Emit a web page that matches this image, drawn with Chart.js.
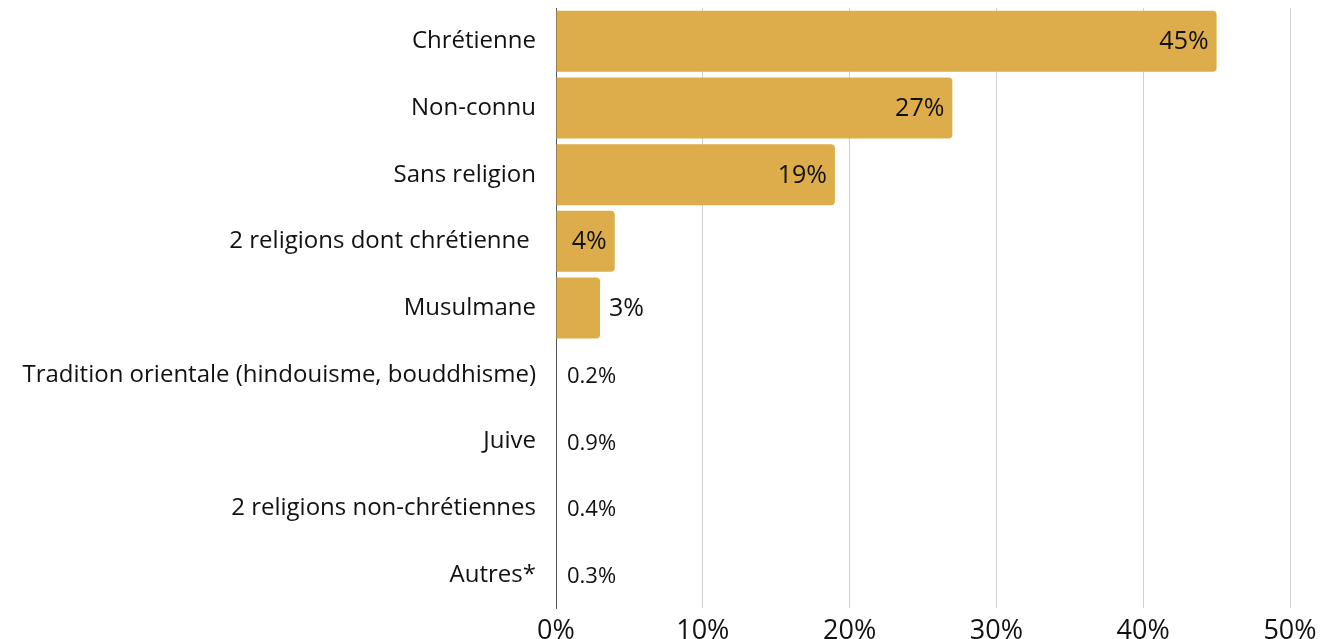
<!DOCTYPE html>
<html>
<head>
<meta charset="utf-8">
<script src="https://cdn.jsdelivr.net/npm/chart.js@4/dist/chart.umd.min.js"></script>
<style>
  html, body { margin: 0; padding: 0; background: #fff; }
  #wrap { width: 1321px; height: 639px; }
</style>
</head>
<body>
<div id="wrap"><canvas id="religions"></canvas></div>
<script>
const categories = ['Chrétienne', 'Non-connu', 'Sans religion', '2 religions dont chrétienne ', 'Musulmane',
    'Tradition orientale (hindouisme, bouddhisme)', 'Juive', '2 religions non-chrétiennes', 'Autres*'];
const shares = [45, 27, 19, 4, 3, 0.2, 0.9, 0.4, 0.3];
const xTicks = [0, 10, 20, 30, 40, 50];

const gold = '#dcad4a';
const fontName = '"Open Sans", Lato, sans-serif';
Chart.defaults.font.family = fontName;
Chart.defaults.color = '#111';

// value labels: inside the bar when it fits, otherwise just after it
const valueLabels = {
    id: 'valueLabels',
    afterDatasetsDraw(chart) {
        const ctx = chart.ctx;
        const meta = chart.getDatasetMeta(0);
        const xScale = chart.scales.x;
        const base = xScale.getPixelForValue(0);
        ctx.save();
        ctx.fillStyle = '#111';
        ctx.textBaseline = 'middle';
        meta.data.forEach(function (bar, i) {
            const v = shares[i];
            const text = v + '%';
            if (v < 1) {
                ctx.font = '22px ' + fontName;
                ctx.textAlign = 'left';
                ctx.fillText(text, base + 11, bar.y + 2);
                return;
            }
            ctx.font = '25px ' + fontName;
            const w = ctx.measureText(text).width;
            if (bar.x - base > w + 14) {
                ctx.textAlign = 'right';
                ctx.fillText(text, bar.x - 8, bar.y + 1);
            } else {
                ctx.textAlign = 'left';
                ctx.fillText(text, bar.x + 9, bar.y + 1);
            }
        });
        ctx.restore();
    }
};

new Chart(document.getElementById('religions'), {
    type: 'bar',
    data: {
        labels: categories,
        datasets: [{
            data: shares,
            backgroundColor: shares.map(v => v < 1 ? 'rgba(0,0,0,0)' : gold),
            borderRadius: { topRight: 4, bottomRight: 4, topLeft: 0, bottomLeft: 0 },
            borderSkipped: 'left',
            barPercentage: 0.915,
            categoryPercentage: 1
        }]
    },
    options: {
        indexAxis: 'y',
        responsive: true,
        maintainAspectRatio: false,
        animation: false,
        layout: { padding: { top: 8, right: 31, left: 0, bottom: 0 } },
        plugins: {
            legend: { display: false },
            tooltip: { enabled: false }
        },
        scales: {
            x: {
                min: 0,
                max: 50,
                afterBuildTicks: function (scale) {
                    scale.ticks = xTicks.map(v => ({ value: v }));
                },
                afterFit: function (scale) {
                    scale.height = 31;
                    scale.paddingLeft = 0;
                    scale.paddingRight = 0;
                },
                grid: { color: '#d0d0d0', drawTicks: false },
                border: { display: false },
                ticks: {
                    padding: 7,
                    font: { size: 27 },
                    color: '#111',
                    callback: v => v + '%'
                }
            },
            y: {
                afterFit: function (scale) {
                    scale.width = 556;
                    scale.paddingTop = 0;
                    scale.paddingBottom = 0;
                },
                grid: { display: false, drawTicks: false },
                border: { display: true, color: '#555', width: 1 },
                ticks: {
                    padding: 20,
                    font: { size: 24 },
                    color: '#111'
                }
            }
        }
    },
    plugins: [valueLabels]
});
</script>
</body>
</html>
